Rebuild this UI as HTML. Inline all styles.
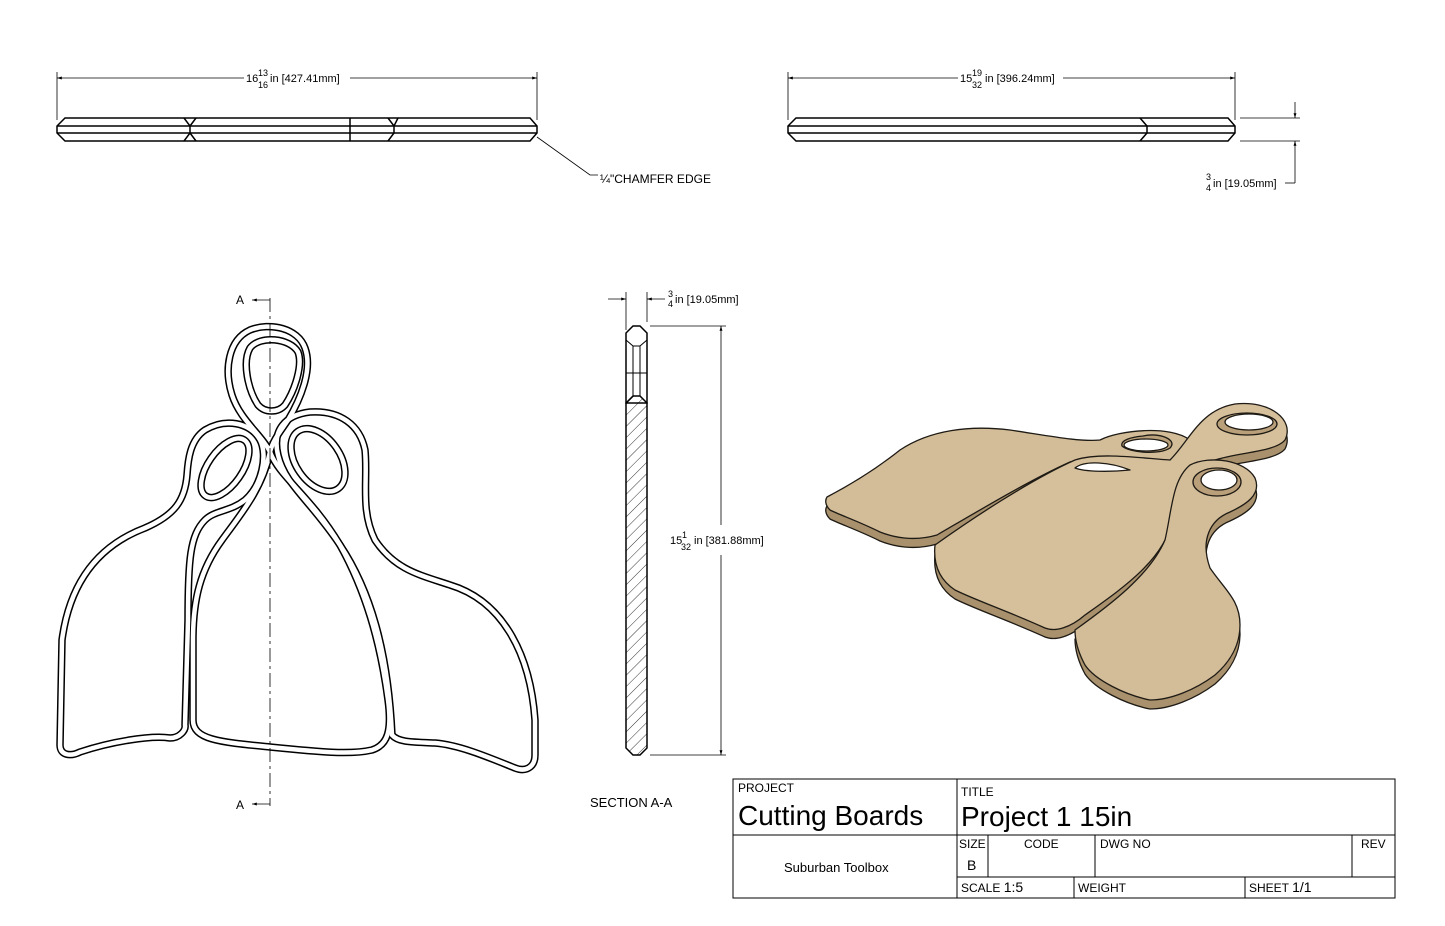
<!DOCTYPE html>
<html><head><meta charset="utf-8"><style>
html,body{margin:0;padding:0;background:#fff;}
svg{display:block;font-family:"Liberation Sans",sans-serif;}
</style></head><body>
<svg width="1445" height="926" viewBox="0 0 1445 926" xmlns="http://www.w3.org/2000/svg">
<defs>
<marker id="ar" viewBox="0 0 10 10" refX="10" refY="5" markerWidth="8" markerHeight="6" orient="auto-start-reverse"><path d="M0,2 L10,5 L0,8 Z" fill="#000"/></marker>
<pattern id="hatch" width="8" height="8" patternUnits="userSpaceOnUse" patternTransform="rotate(45)"><line x1="0" y1="0" x2="0" y2="8" stroke="#000" stroke-width="0.8"/></pattern>
</defs>

<g stroke="#000" fill="none" stroke-width="1.5">
<line x1="57" y1="72" x2="57" y2="120" stroke-width="0.8"/>
<line x1="537" y1="72" x2="537" y2="120" stroke-width="0.8"/>
<line x1="57" y1="78" x2="244" y2="78" stroke-width="0.8" marker-start="url(#ar)"/>
<line x1="350" y1="78" x2="537" y2="78" stroke-width="0.8" marker-end="url(#ar)"/>
<path d="M65,118 L530,118 L537,126 L537,133 L530,141 L65,141 L57,133 L57,126 Z"/>
<line x1="57" y1="126" x2="537" y2="126"/>
<line x1="57" y1="133" x2="537" y2="133"/>
<line x1="350" y1="118" x2="350" y2="141"/>
<path d="M184,118 L190,126 L190,133 L184,141 M196,118 L190,126 M190,133 L196,141"/>
<path d="M388,118 L394,126 L394,133 L388,141 M398,118 L394,126"/>
<path d="M537,137 L590,175 L598,175" stroke-width="0.8"/>
</g>
<text x="246" y="82" font-size="11">16</text>
<text x="258" y="76" font-size="9">13</text><text x="258" y="88" font-size="9">16</text>
<text x="270" y="82" font-size="11">in [427.41mm]</text>
<text x="600" y="183" font-size="12">¼"CHAMFER EDGE</text>

<g stroke="#000" fill="none" stroke-width="1.5">
<line x1="788" y1="72" x2="788" y2="120" stroke-width="0.8"/>
<line x1="1235" y1="72" x2="1235" y2="120" stroke-width="0.8"/>
<line x1="788" y1="78" x2="958" y2="78" stroke-width="0.8" marker-start="url(#ar)"/>
<line x1="1063" y1="78" x2="1235" y2="78" stroke-width="0.8" marker-end="url(#ar)"/>
<path d="M796,118 L1228,118 L1235,126 L1235,133 L1228,141 L796,141 L788,133 L788,126 Z"/>
<line x1="788" y1="126" x2="1235" y2="126"/>
<line x1="788" y1="133" x2="1235" y2="133"/>
<path d="M1140,118 L1147,126 L1147,133 L1140,141"/>
<line x1="1240" y1="118" x2="1300" y2="118" stroke-width="0.8"/>
<line x1="1240" y1="141" x2="1300" y2="141" stroke-width="0.8"/>
<line x1="1295" y1="102" x2="1295" y2="118" stroke-width="0.8" marker-end="url(#ar)"/>
<path d="M1295,183 L1295,141" stroke-width="0.8" marker-end="url(#ar)"/>
<line x1="1285" y1="183" x2="1295" y2="183" stroke-width="0.8"/>
</g>
<text x="960" y="82" font-size="11">15</text>
<text x="972" y="76" font-size="9">19</text><text x="972" y="88" font-size="9">32</text>
<text x="985" y="82" font-size="11">in [396.24mm]</text>
<text x="1206" y="180" font-size="9">3</text><text x="1206" y="191" font-size="9">4</text>
<text x="1213" y="187" font-size="11">in [19.05mm]</text>

<g fill="none" stroke-linejoin="round" stroke-linecap="round">
<g stroke="#000" stroke-width="7.5">
<path id="pL" d="M185,725 L188,620 C188,560 190,535 205,520 C215,510 230,512 245,500 C262,485 268,455 260,440 C250,422 225,418 205,430 C190,440 188,460 187,475 C185,500 175,515 145,528 C100,545 70,580 62,640 L60,745 C60,755 70,757 80,752 C110,742 150,735 170,738 C180,738 186,730 185,725 Z"/>
<path id="pR" d="M392,735 C388,650 370,590 340,545 C310,500 285,485 278,455 C272,430 285,415 310,412 C340,410 360,425 365,450 C368,480 360,510 375,540 C395,570 420,575 450,585 C500,600 530,650 535,720 L535,755 C535,768 525,772 515,768 C490,758 460,745 435,743 C410,742 398,742 392,735 Z"/>
<path id="pM" d="M270,452 C262,490 240,515 222,540 C200,570 193,600 193,640 L193,720 C193,740 220,742 270,747 C320,752 350,755 372,750 C388,745 392,730 388,700 C380,640 365,590 340,545 C310,495 280,478 270,452 C262,435 240,420 232,395 C224,370 228,340 250,330 C270,322 298,328 305,348 C313,370 300,400 288,420 C280,432 273,440 270,452"/>
<path id="hT" d="M250,348 C260,335 290,338 298,352 C303,365 295,390 285,405 C278,413 265,413 258,405 C248,390 242,362 250,348 Z"/>
<ellipse id="hL" cx="225" cy="468" rx="17" ry="34" transform="rotate(35 225 468)"/>
<ellipse id="hR" cx="318" cy="460" rx="22" ry="35" transform="rotate(-35 318 460)"/>
</g>
<g stroke="#fff" stroke-width="4.5">
<use href="#pL"/><use href="#pR"/><use href="#pM"/><use href="#hT"/><use href="#hL"/><use href="#hR"/>
</g>
</g>
<line x1="270" y1="298" x2="270" y2="806" stroke="#000" stroke-width="0.8" stroke-dasharray="14,4,3,4"/>
<line x1="252" y1="300" x2="270" y2="300" stroke="#000" stroke-width="0.8" marker-start="url(#ar)"/>
<line x1="252" y1="804" x2="270" y2="804" stroke="#000" stroke-width="0.8" marker-start="url(#ar)"/>
<text x="236" y="304" font-size="12">A</text>
<text x="236" y="809" font-size="12">A</text>

<g stroke="#000" fill="none">
<line x1="626" y1="292" x2="626" y2="330" stroke-width="0.8"/>
<line x1="647" y1="292" x2="647" y2="322" stroke-width="0.8"/>
<line x1="608" y1="299" x2="626" y2="299" stroke-width="0.8" marker-end="url(#ar)"/>
<line x1="665" y1="299" x2="647" y2="299" stroke-width="0.8" marker-end="url(#ar)"/>
<line x1="650" y1="326" x2="726" y2="326" stroke-width="0.8"/>
<line x1="650" y1="755" x2="726" y2="755" stroke-width="0.8"/>
<line x1="721" y1="525" x2="721" y2="326" stroke-width="0.8" marker-end="url(#ar)"/>
<line x1="721" y1="555" x2="721" y2="755" stroke-width="0.8" marker-end="url(#ar)"/>
<path d="M626,403 L633,396 L640,396 L647,403 L647,748 L640,755 L633,755 L626,748 Z" fill="url(#hatch)" stroke-width="1.5"/>
<path d="M633,326 L640,326 L647,333 L647,403 L626,403 L626,333 Z" stroke-width="1.5"/>
<path d="M626,340 L633,346 L640,346 L647,340 M633,346 L633,396 M640,346 L640,396 M626,373 L647,373" stroke-width="1"/>
</g>
<text x="668" y="297" font-size="9">3</text><text x="668" y="307" font-size="9">4</text>
<text x="675" y="303" font-size="11">in [19.05mm]</text>
<text x="670" y="544" font-size="11">15</text>
<text x="682" y="538" font-size="9">1</text><text x="681" y="550" font-size="9">32</text>
<text x="694" y="544" font-size="11">in [381.88mm]</text>
<text x="590" y="807" font-size="13">SECTION A-A</text>

<g stroke="#1e1a14" stroke-width="1.3" stroke-linejoin="round">
<path transform="translate(0,9)" fill="#a8916c" d="M827,497 C850,485 875,470 900,450 C930,430 970,425 1010,430 C1050,436 1080,442 1100,440 C1120,430 1170,425 1190,440 C1200,455 1180,468 1150,468 C1120,468 1090,458 1070,462 C1030,480 980,510 937,535 C920,540 900,540 880,532 C860,522 840,515 830,510 C825,505 825,500 827,497 Z"/>
<path fill="#d3bd99" d="M827,497 C850,485 875,470 900,450 C930,430 970,425 1010,430 C1050,436 1080,442 1100,440 C1120,430 1170,425 1190,440 C1200,455 1180,468 1150,468 C1120,468 1090,458 1070,462 C1030,480 980,510 937,535 C920,540 900,540 880,532 C860,522 840,515 830,510 C825,505 825,500 827,497 Z"/>
<path fill="#b9a07a" d="M1143,436 C1160,432 1178,440 1170,448 C1160,455 1130,453 1122,446 C1120,440 1132,437 1143,436 Z"/>
<ellipse cx="1146" cy="445" rx="22" ry="6" fill="#fff"/>
<path transform="translate(0,9)" fill="#a8916c" d="M935,545 C970,520 1030,480 1075,460 C1100,452 1140,458 1170,460 C1190,440 1200,410 1235,404 C1270,400 1295,420 1285,440 C1275,452 1240,452 1215,460 C1190,470 1178,490 1172,520 C1165,560 1120,590 1085,615 C1070,628 1055,632 1045,628 C1010,612 975,600 955,590 C940,580 933,565 935,545 Z"/>
<path fill="#d6c09c" d="M935,545 C970,520 1030,480 1075,460 C1100,452 1140,458 1170,460 C1190,440 1200,410 1235,404 C1270,400 1295,420 1285,440 C1275,452 1240,452 1215,460 C1190,470 1178,490 1172,520 C1165,560 1120,590 1085,615 C1070,628 1055,632 1045,628 C1010,612 975,600 955,590 C940,580 933,565 935,545 Z"/>
<ellipse cx="1247" cy="424" rx="30" ry="11" fill="#b9a07a"/>
<ellipse cx="1249" cy="422" rx="24" ry="8" fill="#fff"/>
<path d="M1075,468 C1085,460 1110,462 1130,470 C1110,472 1085,472 1075,468 Z" fill="#fff"/>
<path transform="translate(0,9)" fill="#a8916c" d="M1075,630 C1110,605 1150,575 1165,540 C1172,510 1172,480 1190,465 C1210,455 1245,460 1255,478 C1262,495 1245,505 1230,512 C1210,520 1200,540 1210,568 C1225,590 1240,600 1240,625 C1240,645 1230,662 1215,675 C1195,690 1170,700 1150,700 C1125,695 1095,680 1085,665 C1078,652 1075,640 1075,630 Z"/>
<path fill="#d3bd99" d="M1075,630 C1110,605 1150,575 1165,540 C1172,510 1172,480 1190,465 C1210,455 1245,460 1255,478 C1262,495 1245,505 1230,512 C1210,520 1200,540 1210,568 C1225,590 1240,600 1240,625 C1240,645 1230,662 1215,675 C1195,690 1170,700 1150,700 C1125,695 1095,680 1085,665 C1078,652 1075,640 1075,630 Z"/>
<ellipse cx="1217" cy="482" rx="24" ry="14" fill="#b9a07a"/>
<ellipse cx="1219" cy="480" rx="18" ry="10" fill="#fff"/>
</g>

<g stroke="#000" fill="none" stroke-width="1">
<rect x="733" y="779" width="662" height="119"/>
<line x1="957" y1="779" x2="957" y2="898"/>
<line x1="733" y1="835" x2="1395" y2="835"/>
<line x1="957" y1="877" x2="1395" y2="877"/>
<line x1="988" y1="835" x2="988" y2="877"/>
<line x1="1095" y1="835" x2="1095" y2="877"/>
<line x1="1352" y1="835" x2="1352" y2="877"/>
<line x1="1074" y1="877" x2="1074" y2="898"/>
<line x1="1245" y1="877" x2="1245" y2="898"/>
</g>
<g font-size="12">
<text x="738" y="792">PROJECT</text>
<text x="961" y="796">TITLE</text>
<text x="738" y="825" font-size="28">Cutting Boards</text>
<text x="961" y="826" font-size="28">Project 1 15in</text>
<text x="959" y="848">SIZE</text>
<text x="1024" y="848">CODE</text>
<text x="1100" y="848">DWG NO</text>
<text x="1361" y="848">REV</text>
<text x="967" y="870" font-size="14">B</text>
<text x="784" y="872" font-size="13">Suburban Toolbox</text>
<text x="961" y="892">SCALE <tspan font-size="14">1:5</tspan></text>
<text x="1078" y="892">WEIGHT</text>
<text x="1249" y="892">SHEET <tspan font-size="14">1/1</tspan></text>
</g>
</svg>
</body></html>
